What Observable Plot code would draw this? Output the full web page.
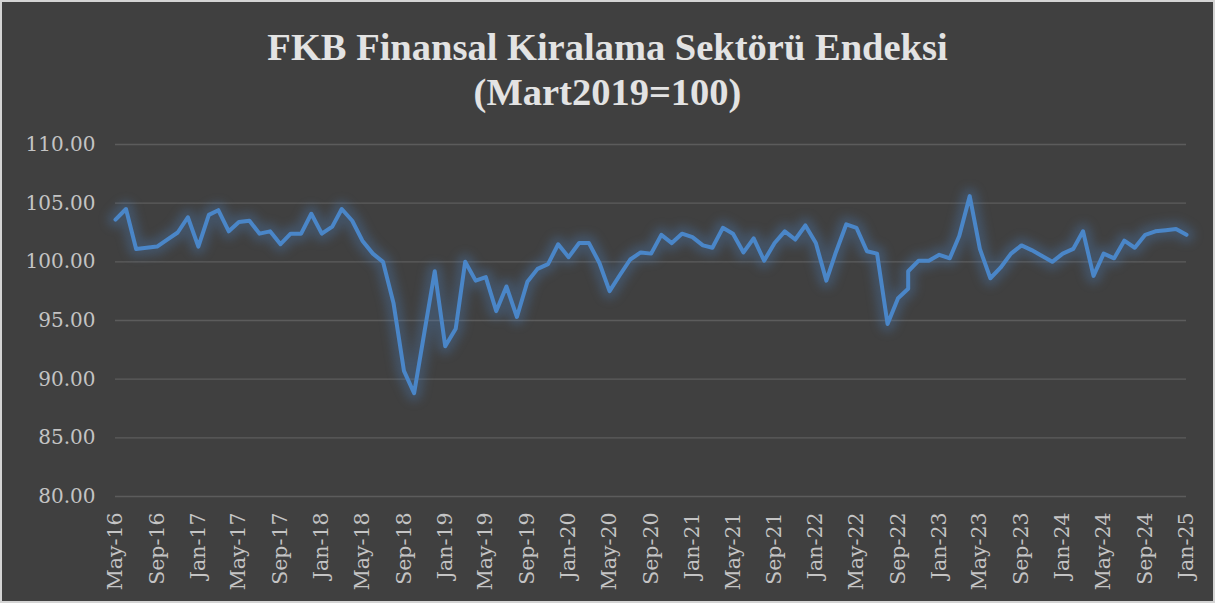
<!DOCTYPE html>
<html><head><meta charset="utf-8">
<script src="https://cdn.jsdelivr.net/npm/d3@7"></script>
<script src="https://cdn.jsdelivr.net/npm/@observablehq/plot@0.6"></script>
<style>
html,body{margin:0;padding:0;background:#fff;}
#chart{width:1215px;height:603px;box-sizing:border-box;border:2px solid #d4d4d4;background:#404040;overflow:hidden;}
#title{height:118px;box-sizing:border-box;padding-top:23px;text-align:center;color:#e3e3e3;font-family:"Liberation Serif",serif;font-weight:bold;font-size:38.5px;line-height:45px;}
</style></head><body>
<div id="chart"><div id="title">FKB Finansal Kiralama Sektörü Endeksi<br>(Mart2019=100)</div></div>
<script>
const months = [
  "2016-05","2016-06","2016-07","2016-08","2016-09","2016-10","2016-11","2016-12",
  "2017-01","2017-02","2017-03","2017-04","2017-05","2017-06","2017-07","2017-08","2017-09","2017-10","2017-11","2017-12",
  "2018-01","2018-02","2018-03","2018-04","2018-05","2018-06","2018-07","2018-08","2018-09","2018-10","2018-11","2018-12",
  "2019-01","2019-02","2019-03","2019-04","2019-05","2019-06","2019-07","2019-08","2019-09","2019-10","2019-11","2019-12",
  "2020-01","2020-02","2020-03","2020-04","2020-05","2020-06","2020-07","2020-08","2020-09","2020-10","2020-11","2020-12",
  "2021-01","2021-02","2021-03","2021-04","2021-05","2021-06","2021-07","2021-08","2021-09","2021-10","2021-11","2021-12",
  "2022-01","2022-02","2022-03","2022-04","2022-05","2022-06","2022-07","2022-08","2022-09","2022-10","2022-10","2022-11","2022-12",
  "2023-01","2023-02","2023-03","2023-04","2023-05","2023-06","2023-07","2023-08","2023-09","2023-10","2023-11","2023-12",
  "2024-01","2024-02","2024-03","2024-04","2024-05","2024-06","2024-07","2024-08","2024-09","2024-10","2024-11","2024-12",
  "2025-01"
];
const values = [
  103.6,104.5,101.1,101.2,101.3,101.9,102.5,103.8,
  101.3,104.0,104.4,102.6,103.4,103.5,102.4,102.6,101.5,102.4,102.4,104.1,
  102.4,103.0,104.5,103.5,101.8,100.7,100.0,96.5,90.7,88.8,94.1,99.2,
  92.8,94.3,100.0,98.4,98.7,95.8,97.9,95.3,98.3,99.4,99.8,101.5,
  100.4,101.6,101.6,99.9,97.5,98.9,100.2,100.8,100.7,102.3,101.6,102.4,
  102.1,101.4,101.2,102.9,102.4,100.8,102.0,100.1,101.6,102.6,101.9,103.1,
  101.6,98.4,100.8,103.2,102.9,100.9,100.7,94.7,96.9,97.7,99.2,100.1,100.1,
  100.6,100.3,102.2,105.6,101.1,98.6,99.5,100.7,101.4,101.0,100.5,100.0,
  100.7,101.1,102.6,98.8,100.7,100.3,101.8,101.2,102.3,102.6,102.7,102.8,
  102.3
];
const xTickMonths = [
  "2016-05","2016-09","2017-01","2017-05","2017-09","2018-01","2018-05","2018-09",
  "2019-01","2019-05","2019-09","2020-01","2020-05","2020-09","2021-01","2021-05",
  "2021-09","2022-01","2022-05","2022-09","2023-01","2023-05","2023-09","2024-01",
  "2024-05","2024-09","2025-01"
];
const yTicks = [80,85,90,95,100,105,110];

const toDate = m => new Date(m + "-01T00:00:00Z");
const data = months.map((m, i) => ({date: toDate(m), value: values[i]}));

const plot = Plot.plot({
  width: 1211, height: 481,
  marginLeft: 113, marginRight: 27, marginTop: 24, marginBottom: 105,
  style: {background: "transparent", color: "#c4c4c4", fontFamily: "'DejaVu Serif', serif", fontSize: "20px", overflow: "visible"},
  x: {type: "utc", domain: [toDate(months[0]), toDate(months[months.length - 1])]},
  y: {domain: [80, 110]},
  marks: [
    Plot.ruleY(yTicks, {stroke: "#5c5c5c", strokeWidth: 1.3}),
    Plot.axisY({ticks: yTicks, tickFormat: d => d.toFixed(2), tickSize: 0, tickPadding: 20, label: null, fontSize: 20}),
    Plot.axisX({ticks: xTickMonths.map(toDate), tickFormat: d3.utcFormat("%b-%y"), tickRotate: -90, tickSize: 0, tickPadding: 16, label: null, fontSize: 20.5}),
    Plot.lineY(data, {x: "date", y: "value", stroke: "#4a86c8", strokeWidth: 16, strokeOpacity: 0.28}),
    Plot.lineY(data, {x: "date", y: "value", stroke: "#4a86c8", strokeWidth: 4})
  ]
});
const glow = plot.querySelectorAll("g[aria-label='line']")[0];
if (glow) glow.style.filter = "blur(5px)";
document.getElementById("chart").appendChild(plot);
</script>
</body></html>
